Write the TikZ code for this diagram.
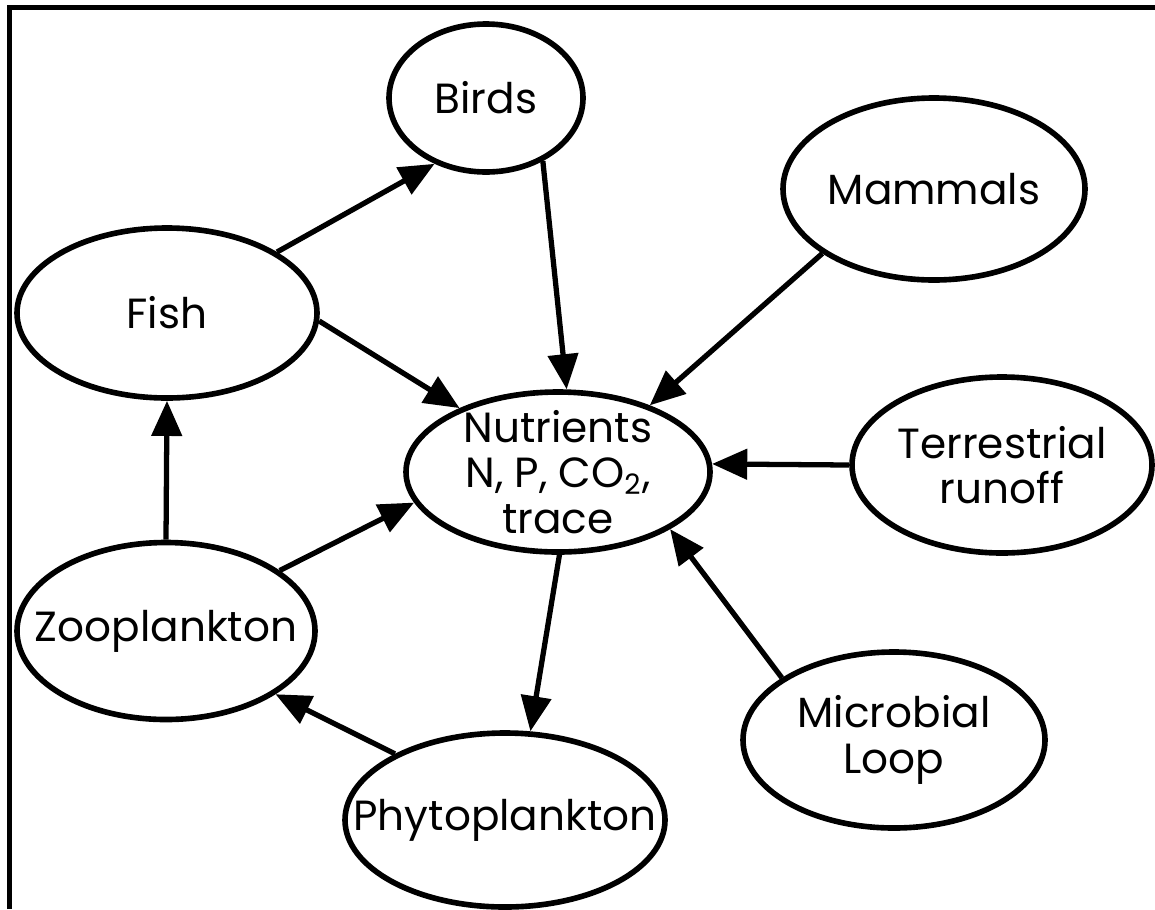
\documentclass[tikz,border=0pt]{standalone}
\usepackage{fontspec}
\setmainfont{Poppins}
\usetikzlibrary{shapes.geometric,arrows.meta}

\begin{document}
\begin{tikzpicture}[
	eco/.style={ellipse, draw, line width=1.6pt, inner sep=0pt},
	lbl/.style={align=center, font=\fontsize{12}{13}\selectfont, inner sep=0pt},
	arr/.style={line width=1.5pt, -{Triangle[length=10pt,width=8.5pt]}}]
	\useasboundingbox (0,0) rectangle (11.55,-9.09);
	% khung
	\draw[line width=1.4pt] (0.095,-9.09) -- (0.095,-0.075) -- (11.55,-0.075);
	% cac nut
	\node[eco, minimum width=1.94cm, minimum height=1.48cm, label={[lbl]center:Birds}] (birds) at (4.86,-0.98) {};
	\node[eco, minimum width=3.02cm, minimum height=1.82cm, label={[lbl]center:Mammals}] (mammals) at (9.34,-1.89) {};
	\node[eco, minimum width=3.0cm, minimum height=1.70cm, label={[lbl]center:Fish}] (fish) at (1.67,-3.13) {};
	\node[eco, minimum width=3.04cm, minimum height=1.60cm, label={[lbl]center:Nutrients\\N, P, CO\textsubscript{2},\\trace}] (nut) at (5.58,-4.72) {};
	\node[eco, minimum width=3.0cm, minimum height=1.76cm, label={[lbl]center:Terrestrial\\runoff}] (terr) at (10.02,-4.65) {};
	\node[eco, minimum width=2.98cm, minimum height=1.77cm, label={[lbl]center:Zooplankton}] (zoo) at (1.66,-6.31) {};
	\node[eco, minimum width=3.02cm, minimum height=1.76cm, label={[lbl]center:Microbial\\Loop}] (micro) at (8.94,-7.40) {};
	\node[eco, minimum width=3.2cm, minimum height=1.74cm, label={[lbl]center:Phytoplankton}] (phyto) at (5.05,-8.20) {};
	% mui ten
	\foreach \a/\b in {fish.29/birds.232, fish.-3/nut.147, birds.-48/nut.84, mammals.210/nut.36,
		terr.180/nut.3, micro.151/nut.-27, nut.-89/phyto.74, phyto.149/zoo.-30,
		zoo.north/fish.south, zoo.28/nut.192} {
		\draw[arr] (\a) -- (\b);
	}
\end{tikzpicture}
\end{document}
